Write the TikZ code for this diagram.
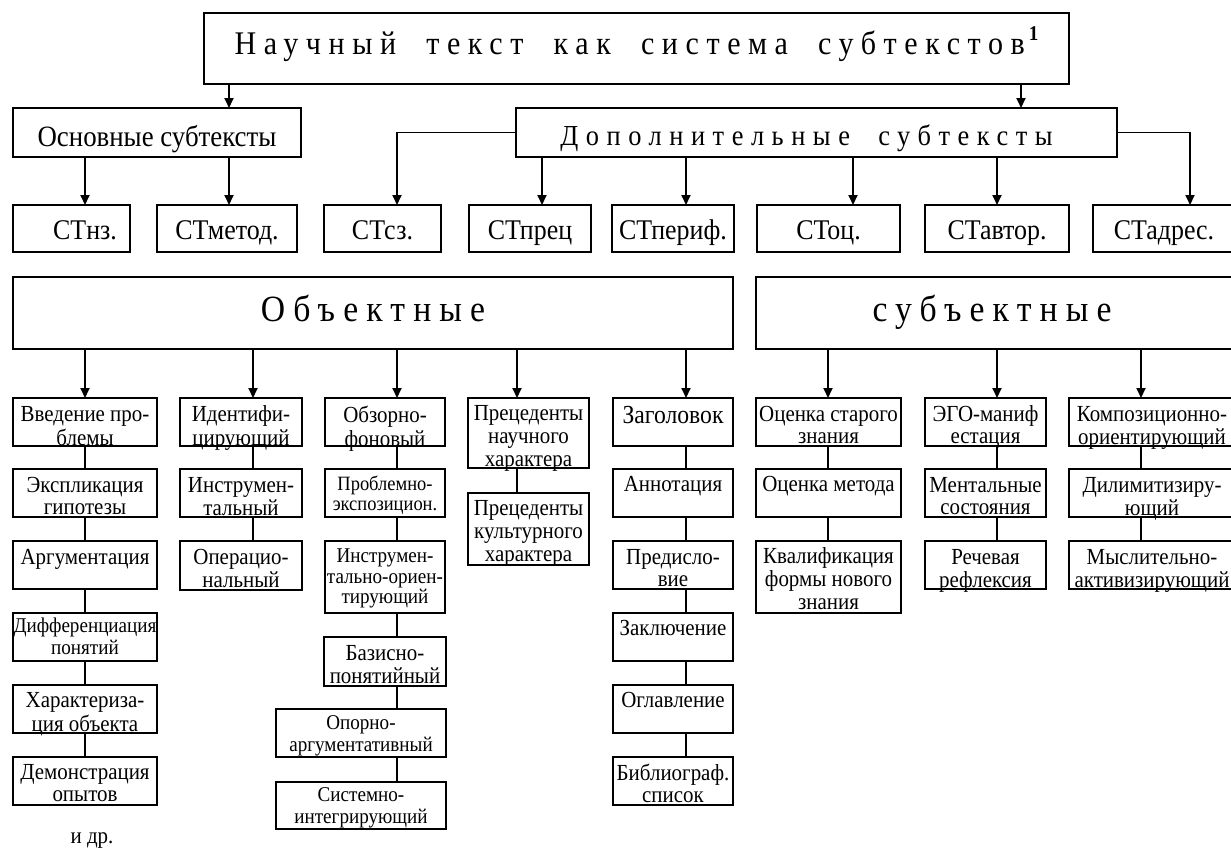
\documentclass[tikz,border=0pt]{standalone}
\usepackage{fontspec}
\setmainfont{Liberation Serif}
\newfontfamily\condfont[FakeStretch=0.91]{Liberation Serif}
\usetikzlibrary{arrows.meta}

% box with top-aligned label: name, x, y (top left), width, height, font style, label drop, text
\newcommand\cb[8]{%
  \node[box, minimum width=#4pt, minimum height=#5pt] (#1) at (#2,#3) {};%
  \node[lbl, #6] (#1-t) at ([yshift=-#7pt]#1.north) {\strut #8};%
}

\begin{document}
\begin{tikzpicture}[x=1pt, y=-1pt,
  box/.style={draw, line width=1.8pt, anchor=north west, inner sep=0pt, outer sep=0pt},
  lbl/.style={anchor=north, align=center, inner sep=0pt, outer sep=0pt},
  head/.style={anchor=base, inner sep=0pt, outer sep=0pt},
  conn/.style={line width=1.8pt},
  arr/.style={line width=1.8pt, -{Triangle[length=10pt,width=9pt]}},
  fA/.style={font=\condfont\fontsize{23}{22}\selectfont},
  fA3/.style={font=\condfont\fontsize{23}{23}\selectfont},
  fB/.style={font=\condfont\fontsize{21}{20.5}\selectfont},
  fC/.style={font=\condfont\fontsize{20.3}{20}\selectfont},
  fZ/.style={font=\condfont\fontsize{26}{26}\selectfont},
  fCT/.style={font=\condfont\fontsize{28.5}{30}\selectfont},
]
\useasboundingbox (0,0) rectangle (1231,852);
\clip (0,0) rectangle (1231,852);

% x positions of the vertical connectors
\coordinate (xa) at (229,0);
\coordinate (xb) at (1021,0);
\coordinate (xp) at (542,0);
\coordinate (xo) at (853,0);
\coordinate (xr) at (1190,0);
\coordinate (x1) at (85,0);
\coordinate (x2) at (253,0);
\coordinate (x3) at (397,0);
\coordinate (x4) at (517,0);
\coordinate (x5) at (686,0);
\coordinate (x6) at (828,0);
\coordinate (x7) at (997,0);
\coordinate (x8) at (1141,0);

% title
\node[box, minimum width=865pt, minimum height=71pt] (title) at (204,13) {};
\node[head, font=\condfont\fontsize{33}{36}\selectfont] (title-t) at ([yshift=-41pt]title.north)
  {{\addfontfeature{LetterSpace=23}Научный~ текст~ как~ система~ субтекстов}\hspace{4pt}\raisebox{0.42em}{\fontsize{21}{21}\selectfont\bfseries 1}};

% main and additional subtexts
\node[box, minimum width=288pt, minimum height=49pt] (osn) at (13,108) {};
\node[head, font=\condfont\fontsize{29.5}{30}\selectfont] (osn-t) at ([yshift=-38pt]osn.north) {Основные субтексты};
\node[box, minimum width=601pt, minimum height=49pt] (dop) at (516,108) {};
\node[head, font=\condfont\fontsize{29}{30}\selectfont] (dop-t) at ([xshift=-10pt,yshift=-37pt]dop.north)
  {\addfontfeature{LetterSpace=26}Дополнительные~ субтексты};

% row of subtext kinds
\node[box, minimum width=117pt, minimum height=47pt] (stnz) at (13,205) {};
\node[box, minimum width=140pt, minimum height=47pt] (stmet) at (157,205) {};
\node[box, minimum width=117pt, minimum height=47pt] (stsz) at (324,205) {};
\node[box, minimum width=122pt, minimum height=47pt] (stprec) at (469,205) {};
\node[box, minimum width=122pt, minimum height=47pt] (stper) at (612,205) {};
\node[box, minimum width=143pt, minimum height=47pt] (stoc) at (757,205) {};
\node[box, minimum width=144pt, minimum height=47pt] (stavt) at (925,205) {};
\node[box, minimum width=142pt, minimum height=47pt] (stadr) at (1093,205) {};
\node[head, fCT] (stnz-t) at ([yshift=-34pt]stnz.north -| x1) {СТнз.};
\node[head, fCT] (stmet-t) at ([yshift=-34pt]stmet.north) {СТметод.};
\node[head, fCT] (stsz-t) at ([yshift=-34pt]stsz.north) {СТсз.};
\node[head, fCT] (stprec-t) at ([yshift=-34pt]stprec.north) {СТпрец};
\node[head, fCT] (stper-t) at ([yshift=-34pt]stper.north) {СТпериф.};
\node[head, fCT] (stoc-t) at ([yshift=-34pt]stoc.north) {СТоц.};
\node[head, fCT] (stavt-t) at ([yshift=-34pt]stavt.north) {СТавтор.};
\node[head, fCT] (stadr-t) at ([yshift=-34pt]stadr.north) {СТадрес.};

% object and subject groups
\node[box, minimum width=720pt, minimum height=72pt] (obj) at (13,277) {};
\node[head, font=\condfont\fontsize{37}{40}\selectfont] (obj-t) at ([yshift=-44pt]obj.north)
  {\addfontfeature{LetterSpace=22}Объектные};
\node[box, minimum width=484pt, minimum height=72pt] (subj) at (756,277) {};
\node[head, font=\condfont\fontsize{37}{40}\selectfont] (subj-t) at ([xshift=-6pt,yshift=-44pt]subj.north)
  {\addfontfeature{LetterSpace=22}субъектные};

% object subtexts
\cb{c1a}{13}{398}{144}{48}{fA}{8}{Введение про-\\блемы}
\cb{c1b}{13}{469}{144}{48}{fA}{8}{Экспликация\\гипотезы}
\cb{c1c}{13}{541}{144}{48}{fA}{8}{Аргументация}
\cb{c1d}{13}{613}{144}{48}{fB}{5}{Дифференциация\\понятий}
\cb{c1e}{13}{685}{144}{48}{fA}{7}{Характериза-\\ция объекта}
\cb{c1f}{13}{757}{144}{48}{fA}{7}{Демонстрация\\опытов}

\cb{c2a}{180}{398}{122}{48}{fA}{8}{Идентифи-\\цирующий}
\cb{c2b}{180}{469}{122}{48}{fA}{8}{Инструмен-\\тальный}
\cb{c2c}{180}{541}{122}{49}{fA}{8}{Операцио-\\нальный}

\cb{c3a}{325}{398}{120}{48}{fA}{8}{Обзорно-\\фоновый}
\cb{c3b}{325}{469}{120}{48}{fC}{7}{Проблемно-\\экспозицион.}
\cb{c3c}{325}{541}{120}{72}{fB}{7.6}{Инструмен-\\тально-ориен-\\тирующий}
\cb{c3d}{324}{637}{122}{49}{fA}{8}{Базисно-\\понятийный}
\cb{c3e}{276}{709}{170}{48}{fB}{6.6}{Опорно-\\аргументативный}
\cb{c3f}{276}{782}{170}{47}{fB}{5.6}{Системно-\\интегрирующий}

\cb{c4a}{468}{398}{121}{70}{fA3}{6}{Прецеденты\\научного\\характера}
\cb{c4b}{468}{493}{121}{72}{fA3}{6}{Прецеденты\\культурного\\характера}

\cb{c5a}{613}{398}{120}{48}{fZ}{7.5}{Заголовок}
\cb{c5b}{613}{469}{120}{48}{fA}{7}{Аннотация}
\cb{c5c}{613}{541}{120}{48}{fA}{8}{Предисло-\\вие}
\cb{c5d}{613}{613}{120}{48}{fA}{7}{Заключение}
\cb{c5e}{613}{685}{120}{48}{fA}{7}{Оглавление}
\cb{c5f}{613}{757}{120}{48}{fA}{7}{Библиограф.\\список}

% subject subtexts
\cb{c6a}{756}{398}{145}{48}{fA}{8}{Оценка старого\\знания}
\cb{c6b}{756}{469}{145}{48}{fA}{7}{Оценка метода}
\cb{c6c}{756}{541}{145}{72}{fA3}{6}{Квалификация\\формы нового\\знания}

\cb{c7a}{925}{398}{121}{48}{fA}{8}{ЭГО-маниф\\естация}
\cb{c7b}{925}{469}{121}{48}{fA}{8}{Ментальные\\состояния}
\cb{c7c}{925}{541}{121}{48}{fA}{8}{Речевая\\рефлексия}

\cb{c8a}{1069}{398}{166}{48}{fA}{8}{Композиционно-\\ориентирующий}
\cb{c8b}{1069}{469}{166}{48}{fA}{8}{Дилимитизиру-\\ющий}
\cb{c8c}{1069}{541}{166}{48}{fA}{8}{Мыслительно-\\активизирующий}

\node[head, fA] (etc) at (92,843) {и др.};

% connectors: top levels
\draw[arr] (title.south -| xa) -- (osn.north -| xa);
\draw[arr] (title.south -| xb) -- (dop.north -| xb);
\draw[arr] (osn.south -| x1) -- (stnz.north -| x1);
\draw[arr] (osn.south -| xa) -- (stmet.north -| xa);
\draw[arr] (dop.west) -| (stsz.north -| x3);
\draw[arr] (dop.south -| xp) -- (stprec.north -| xp);
\draw[arr] (dop.south -| x5) -- (stper.north -| x5);
\draw[arr] (dop.south -| xo) -- (stoc.north -| xo);
\draw[arr] (dop.south -| x7) -- (stavt.north -| x7);
\draw[arr] (dop.east) -| (stadr.north -| xr);

% connectors: groups to columns
\foreach \b/\x in {c1a/x1, c2a/x2, c3a/x3, c4a/x4, c5a/x5}
  \draw[arr] (obj.south -| \x) -- (\b.north -| \x);
\foreach \b/\x in {c6a/x6, c7a/x7, c8a/x8}
  \draw[arr] (subj.south -| \x) -- (\b.north -| \x);

% connectors: chains inside columns
\foreach \a/\b/\x in {c1a/c1b/x1, c1b/c1c/x1, c1c/c1d/x1, c1d/c1e/x1, c1e/c1f/x1,
    c2a/c2b/x2, c2b/c2c/x2,
    c3a/c3b/x3, c3b/c3c/x3, c3c/c3d/x3, c3d/c3e/x3, c3e/c3f/x3,
    c4a/c4b/x4,
    c5a/c5b/x5, c5b/c5c/x5, c5c/c5d/x5, c5d/c5e/x5, c5e/c5f/x5,
    c6a/c6b/x6, c6b/c6c/x6,
    c7a/c7b/x7, c7b/c7c/x7,
    c8a/c8b/x8, c8b/c8c/x8}
  \draw[conn] (\a.south -| \x) -- (\b.north -| \x);
\end{tikzpicture}
\end{document}
